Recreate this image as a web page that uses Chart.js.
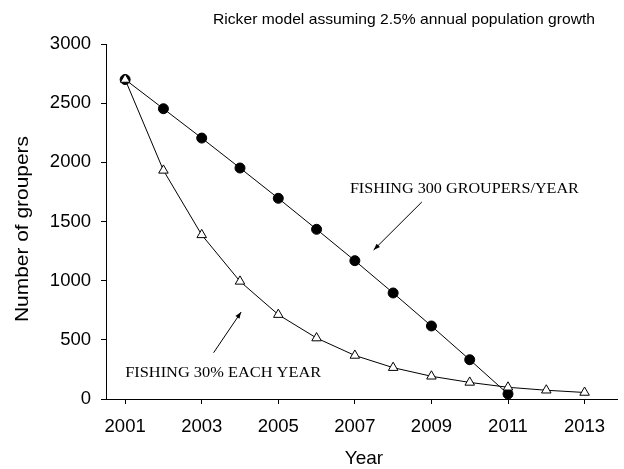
<!DOCTYPE html>
<html>
<head>
<meta charset="utf-8">
<script src="https://cdn.jsdelivr.net/npm/chart.js@4"></script>
<style>
html,body{margin:0;padding:0;background:#fff;}
#wrap{width:624px;height:469px;position:relative;}
</style>
</head>
<body>
<div id="wrap"><canvas id="c" width="624" height="469"></canvas></div>
<script>
const years = [2001,2002,2003,2004,2005,2006,2007,2008,2009,2010,2011,2012,2013];
const fixedCatch = [2700,2453,2205,1952,1696,1434,1169,896,617,332,42];
const pctCatch = [2700,1932,1387,994,713,515,368,265,192,140,99,74,55];
const xTicks = [2001,2003,2005,2007,2009,2011,2013];
const yTicks = [0,500,1000,1500,2000,2500,3000];
const titleText = 'Ricker model assuming 2.5% annual population growth';
const xTitle = 'Year';
const yTitle = 'Number of groupers';
const note1 = {text:'FISHING 300 GROUPERS/YEAR', x:2006.87, y:1775, from:[2008.75,1665], to:[2007.49,1259]};
const note2 = {text:'FISHING 30% EACH YEAR', x:2001.0, y:220, from:[2003.31,391], to:[2004.03,735]};

const sans = "'Liberation Sans', Arial, sans-serif";
const serif = "'Liberation Serif', 'Times New Roman', serif";

function arrow(ctx, x1,y1,x2,y2){
  ctx.beginPath(); ctx.moveTo(x1,y1); ctx.lineTo(x2,y2); ctx.stroke();
  const a = Math.atan2(y2-y1,x2-x1), L=7, w=0.35;
  ctx.beginPath();
  ctx.moveTo(x2,y2);
  ctx.lineTo(x2-L*Math.cos(a-w), y2-L*Math.sin(a-w));
  ctx.lineTo(x2-L*Math.cos(a+w), y2-L*Math.sin(a+w));
  ctx.closePath(); ctx.fill();
}
function fitText(ctx, text, x, y, font, targetW, anchor, rot){
  ctx.save();
  ctx.font = font;
  const w = ctx.measureText(text).width;
  const sx = targetW ? targetW / w : 1;
  ctx.translate(x, y);
  if (rot) ctx.rotate(rot);
  ctx.scale(sx, 1);
  ctx.textAlign = anchor; ctx.textBaseline = 'middle';
  ctx.fillText(text, 0, 0);
  ctx.restore();
}

const deco = {
  id:'deco',
  afterDraw(chart){
    const ctx = chart.ctx, xs = chart.scales.x, ys = chart.scales.y;
    ctx.save();
    ctx.fillStyle='#000'; ctx.strokeStyle='#000'; ctx.lineWidth=1;
    fitText(ctx, titleText, 404, 20, '14.5px '+sans, 382, 'center');
    fitText(ctx, xTitle, 364, 459, '19px '+sans, 0, 'center');
    fitText(ctx, yTitle, 23, 229, '19px '+sans, 186, 'center', -Math.PI/2);
    fitText(ctx, note1.text, xs.getPixelForValue(note1.x), ys.getPixelForValue(note1.y), '15px '+serif, 229, 'left');
    fitText(ctx, note2.text, xs.getPixelForValue(note2.x), ys.getPixelForValue(note2.y), '15px '+serif, 196, 'left');
    [note1,note2].forEach(n=>{
      arrow(ctx, xs.getPixelForValue(n.from[0]), ys.getPixelForValue(n.from[1]),
                 xs.getPixelForValue(n.to[0]), ys.getPixelForValue(n.to[1]));
    });
    ctx.restore();
  }
};

new Chart(document.getElementById('c'), {
  type:'line',
  data:{
    datasets:[
      {label:'30%', data: years.slice(0,pctCatch.length).map((y,i)=>({x:y,y:pctCatch[i]})),
       borderColor:'#000', borderWidth:1, backgroundColor:'#fff', pointStyle:'triangle',
       pointRadius:5.5, pointBorderColor:'#000', pointBackgroundColor:'#fff', pointBorderWidth:1, order:0, tension:0},
      {label:'300', data: years.slice(0,fixedCatch.length).map((y,i)=>({x:y,y:fixedCatch[i]})),
       borderColor:'#000', borderWidth:1, backgroundColor:'#000', pointStyle:'circle',
       pointRadius:5, pointBorderColor:'#000', pointBackgroundColor:'#000', pointBorderWidth:1, order:1, tension:0}
    ]
  },
  options:{
    responsive:false, animation:false, devicePixelRatio:1,
    layout:{padding:{top:44,right:0,left:0,bottom:0}},
    plugins:{legend:{display:false}, tooltip:{enabled:false}, title:{display:false}},
    scales:{
      x:{type:'linear', min:2000.5, max:2013.86,
         afterBuildTicks(s){ s.ticks = xTicks.map(v=>({value:v})); },
         afterFit(s){ s.height = 70; },
         ticks:{callback:v=>String(v), color:'#000', font:{family:sans,size:18.5}, padding:12, maxRotation:0, autoSkip:false},
         grid:{drawOnChartArea:false, drawTicks:true, tickLength:5, color:'#000'},
         border:{display:true, color:'#000', width:1}},
      y:{type:'linear', min:0, max:3000,
         afterBuildTicks(s){ s.ticks = yTicks.map(v=>({value:v})); },
         afterFit(s){ s.width = 106; },
         ticks:{callback:v=>String(v), color:'#000', font:{family:sans,size:18.5}, padding:10},
         grid:{drawOnChartArea:false, drawTicks:true, tickLength:5, color:'#000'},
         border:{display:true, color:'#000', width:1}}
    }
  },
  plugins:[deco]
});
</script>
</body>
</html>
